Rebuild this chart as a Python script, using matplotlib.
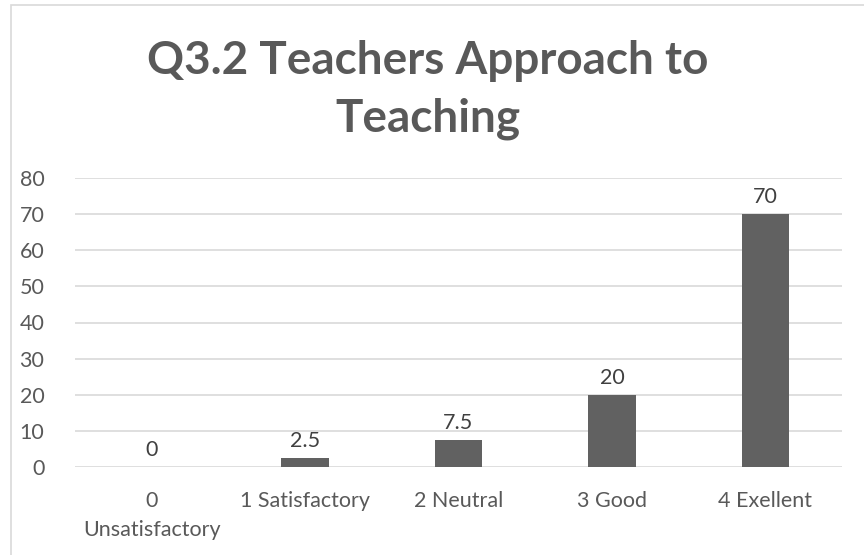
import matplotlib
matplotlib.use("Agg")
import matplotlib.pyplot as plt
from matplotlib.patches import Rectangle

categories = ["0\nUnsatisfactory", "1 Satisfactory", "2 Neutral", "3 Good", "4 Exellent"]
values = [0, 2.5, 7.5, 20, 70]
value_labels = ["0", "2.5", "7.5", "20", "70"]
yticks = [0, 10, 20, 30, 40, 50, 60, 70, 80]
title = "Q3.2 Teachers Approach to\nTeaching"

txt = "#595959"
plt.rcParams["font.family"] = ["Lato", "DejaVu Sans"]

fig = plt.figure(figsize=(8.64, 5.55), dpi=100)
fig.patches.append(Rectangle((11 / 864, -0.1), 1, 1.1 - 5 / 555, transform=fig.transFigure,
                             fill=False, edgecolor="#d9d9d9", linewidth=1.2))

ax = fig.add_axes([75 / 864, 88 / 555, 767 / 864, 289 / 555])
x = range(len(categories))
bars = ax.bar(x, values, width=0.31, color="#616161", zorder=3)
for b, lab in zip(bars, value_labels):
    ax.annotate(lab, (b.get_x() + b.get_width() / 2, b.get_height()),
                xytext=(0, 5), textcoords="offset points",
                ha="center", va="bottom", fontsize=15.5, color="#404040")

ax.set_xlim(-0.5, len(categories) - 0.5)
ax.set_ylim(0, 80)
ax.set_yticks(yticks)
ax.set_xticks(list(x))
ax.set_xticklabels(categories, linespacing=1.6)
ax.tick_params(axis="both", length=0, labelsize=15.5, colors=txt)
ax.tick_params(axis="y", pad=22)
ax.tick_params(axis="x", pad=17)
ax.grid(axis="y", color="#d9d9d9", linewidth=1.2, zorder=0)
for s in ax.spines.values():
    s.set_visible(False)

fig.text(0.495, 1 - 90 / 555, title, ha="center", va="center", fontsize=33,
         fontweight="bold", color=txt, linespacing=1.45)

fig.savefig("out.png", dpi=100)
